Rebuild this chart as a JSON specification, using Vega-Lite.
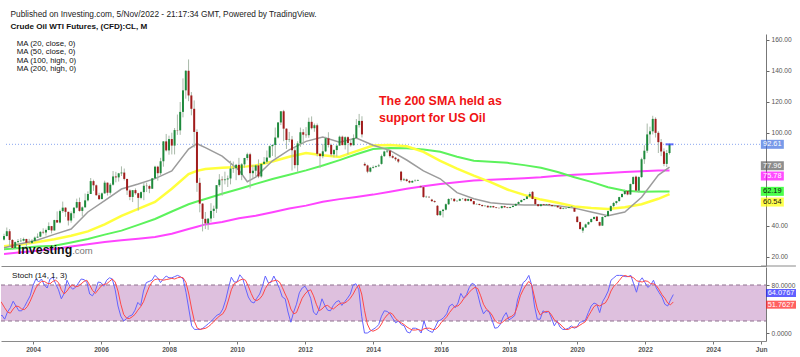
{
"$schema": "https://vega.github.io/schema/vega-lite/v6.json",
"background": "white",
"padding": {"left": 0, "top": 9, "right": 0, "bottom": 0},
"config": {"font": "Liberation Sans", "view": {"stroke": null}, "axis": {"grid": false}},
"title": {"text": "Published on Investing.com, 5/Nov/2022 - 21:17:34 GMT, Powered by TradingView.", "subtitle": "Crude Oil WTI Futures, (CFD):CL, M", "anchor": "start", "frame": "bounds", "dx": 10, "font": "Liberation Sans", "fontSize": 8.3, "fontWeight": "normal", "color": "#222222", "subtitleFont": "Liberation Sans", "subtitleFontSize": 8.1, "subtitleFontWeight": "bold", "subtitleColor": "#111111", "subtitlePadding": 5, "offset": 3},
"spacing": 0,
"datasets": {
"one": [{"n": 1}],
"levels": [{"lvl": 20}, {"lvl": 80}],
"boxes": [{"name": "Last", "v": 92.61, "t": "92.61"}, {"name": "MA 20", "v": 78.8, "t": "77.96"}, {"name": "MA 200", "v": 72.2, "t": "75.78"}, {"name": "MA 100", "v": 62.3, "t": "62.19"}, {"name": "MA 50", "v": 55.4, "t": "60.54"}],
"sboxes": [{"name": "K", "v": 66.7, "t": "64.0767"}, {"name": "D", "v": 47.2, "t": "51.7627"}],
"candles": [
{"d":2003,"o":31.2,"h":35,"l":30.6,"c":33.5,"k":25,"s":56},
{"d":2003.083,"o":33.5,"h":39,"l":33.3,"c":36.6,"k":30,"s":50},
{"d":2003.167,"o":36.6,"h":38,"l":27,"c":31,"k":23,"s":42},
{"d":2003.25,"o":31,"h":31.5,"l":24.8,"c":25.8,"k":35,"s":35},
{"d":2003.333,"o":25.8,"h":30,"l":25.2,"c":29.6,"k":42,"s":33},
{"d":2003.417,"o":29.6,"h":31.6,"l":28.8,"c":30.2,"k":53,"s":40},
{"d":2003.5,"o":30.2,"h":32.2,"l":29.5,"c":30.5,"k":45,"s":45},
{"d":2003.583,"o":30.5,"h":32.5,"l":30,"c":31.6,"k":37,"s":44},
{"d":2003.667,"o":31.6,"h":31.8,"l":26,"c":29.2,"k":37,"s":40},
{"d":2003.75,"o":29.2,"h":31.7,"l":28.6,"c":29.1,"k":44,"s":39},
{"d":2003.833,"o":29.1,"h":31.5,"l":28.4,"c":30.4,"k":53,"s":44},
{"d":2003.917,"o":30.4,"h":33.2,"l":30,"c":32.5,"k":62,"s":53},
{"d":2004,"o":32.5,"h":35.2,"l":32.3,"c":33.1,"k":79,"s":64},
{"d":2004.083,"o":33.1,"h":36.6,"l":32.8,"c":36.2,"k":90,"s":75},
{"d":2004.167,"o":36.2,"h":38.5,"l":34.7,"c":35.8,"k":85,"s":82},
{"d":2004.25,"o":35.8,"h":38.3,"l":33.8,"c":37.4,"k":90,"s":86},
{"d":2004.333,"o":37.4,"h":42.3,"l":37.2,"c":39.9,"k":80,"s":86},
{"d":2004.417,"o":39.9,"h":40,"l":35.2,"c":37.1,"k":75,"s":83},
{"d":2004.5,"o":37.1,"h":44,"l":37,"c":43.8,"k":90,"s":82},
{"d":2004.583,"o":43.8,"h":49.4,"l":42.1,"c":42.2,"k":93,"s":86},
{"d":2004.667,"o":42.2,"h":50.5,"l":41.6,"c":49.6,"k":82,"s":88},
{"d":2004.75,"o":49.6,"h":55.7,"l":48.5,"c":51.8,"k":72,"s":84},
{"d":2004.833,"o":51.8,"h":52,"l":45.9,"c":49.1,"k":57,"s":72},
{"d":2004.917,"o":49.1,"h":49.2,"l":40.3,"c":43.5,"k":66,"s":65},
{"d":2005,"o":43.5,"h":49.4,"l":42.1,"c":48.2,"k":88,"s":70},
{"d":2005.083,"o":48.2,"h":52,"l":45,"c":51.8,"k":78,"s":77},
{"d":2005.167,"o":51.8,"h":57.6,"l":51.3,"c":55.4,"k":73,"s":80},
{"d":2005.25,"o":55.4,"h":58.3,"l":49.2,"c":49.7,"k":76,"s":77},
{"d":2005.333,"o":49.7,"h":52.6,"l":46.2,"c":52,"k":83,"s":78},
{"d":2005.417,"o":52,"h":60.9,"l":51.9,"c":56.5,"k":90,"s":82},
{"d":2005.5,"o":56.5,"h":62.3,"l":55.8,"c":60.6,"k":89,"s":86},
{"d":2005.583,"o":60.6,"h":70.9,"l":60.6,"c":68.9,"k":85,"s":88},
{"d":2005.667,"o":68.9,"h":69.8,"l":62.6,"c":66.2,"k":65,"s":80},
{"d":2005.75,"o":66.2,"h":66.7,"l":59.6,"c":59.8,"k":62,"s":71},
{"d":2005.833,"o":59.8,"h":61.4,"l":56.7,"c":57.3,"k":70,"s":66},
{"d":2005.917,"o":57.3,"h":61.6,"l":57.3,"c":61,"k":85,"s":72},
{"d":2006,"o":61,"h":69.2,"l":60.8,"c":67.9,"k":84,"s":78},
{"d":2006.083,"o":67.9,"h":68,"l":59.6,"c":61.4,"k":78,"s":81},
{"d":2006.167,"o":61.4,"h":67.7,"l":60.2,"c":66.6,"k":88,"s":82},
{"d":2006.25,"o":66.6,"h":75.4,"l":66,"c":71.9,"k":92,"s":86},
{"d":2006.333,"o":71.9,"h":74.9,"l":68.1,"c":71.3,"k":90,"s":90},
{"d":2006.417,"o":71.3,"h":74.2,"l":68.6,"c":73.9,"k":72,"s":85},
{"d":2006.5,"o":73.9,"h":78.4,"l":72.2,"c":74.4,"k":45,"s":70},
{"d":2006.583,"o":74.4,"h":77,"l":69.3,"c":70.3,"k":28,"s":48},
{"d":2006.667,"o":70.3,"h":70.4,"l":60,"c":62.9,"k":20,"s":31},
{"d":2006.75,"o":62.9,"h":63.7,"l":56.6,"c":58.7,"k":24,"s":25},
{"d":2006.833,"o":58.7,"h":62.4,"l":55.4,"c":63.1,"k":28,"s":24},
{"d":2006.917,"o":63.1,"h":64.2,"l":60.1,"c":61.1,"k":30,"s":27},
{"d":2007,"o":61.1,"h":61.4,"l":49.9,"c":58.1,"k":38,"s":31},
{"d":2007.083,"o":58.1,"h":62.3,"l":57.2,"c":61.8,"k":51,"s":38},
{"d":2007.167,"o":61.8,"h":68.1,"l":56.6,"c":65.9,"k":46,"s":44},
{"d":2007.25,"o":65.9,"h":67.9,"l":61.9,"c":65.7,"k":70,"s":52},
{"d":2007.333,"o":65.7,"h":66.6,"l":61.1,"c":64,"k":84,"s":65},
{"d":2007.417,"o":64,"h":70.8,"l":63.9,"c":70.7,"k":86,"s":77},
{"d":2007.5,"o":70.7,"h":78.8,"l":70.4,"c":78.2,"k":88,"s":85},
{"d":2007.583,"o":78.2,"h":78.8,"l":69.2,"c":74,"k":96,"s":89},
{"d":2007.667,"o":74,"h":83.9,"l":72.8,"c":81.7,"k":92,"s":90},
{"d":2007.75,"o":81.7,"h":94.7,"l":78.2,"c":94.5,"k":84,"s":89},
{"d":2007.833,"o":94.5,"h":99.3,"l":88,"c":88.7,"k":90,"s":88},
{"d":2007.917,"o":88.7,"h":98.2,"l":85.9,"c":96,"k":95,"s":89},
{"d":2008,"o":96,"h":100.1,"l":86.1,"c":91.8,"k":92,"s":90},
{"d":2008.083,"o":91.8,"h":103.1,"l":86.1,"c":101.8,"k":92,"s":91},
{"d":2008.167,"o":101.8,"h":111.8,"l":98.7,"c":101.6,"k":94,"s":90},
{"d":2008.25,"o":101.6,"h":119.9,"l":98.7,"c":113.5,"k":96,"s":92},
{"d":2008.333,"o":113.5,"h":135.1,"l":110,"c":127.4,"k":94,"s":93},
{"d":2008.417,"o":127.4,"h":140.4,"l":122,"c":140,"k":90,"s":92},
{"d":2008.5,"o":140,"h":147.3,"l":120.4,"c":124.1,"k":68,"s":84},
{"d":2008.583,"o":124.1,"h":126.3,"l":111.3,"c":115.5,"k":40,"s":65},
{"d":2008.667,"o":115.5,"h":120.9,"l":90.5,"c":100.6,"k":12,"s":40},
{"d":2008.75,"o":100.6,"h":102.3,"l":62,"c":67.8,"k":6,"s":19},
{"d":2008.833,"o":67.8,"h":71,"l":48.8,"c":54.4,"k":6,"s":8},
{"d":2008.917,"o":54.4,"h":54.7,"l":36.5,"c":44.6,"k":6,"s":6},
{"d":2009,"o":44.6,"h":49,"l":38,"c":41.7,"k":8,"s":7},
{"d":2009.083,"o":41.7,"h":43.9,"l":37.5,"c":44.8,"k":12,"s":8},
{"d":2009.167,"o":44.8,"h":54.7,"l":42.7,"c":49.7,"k":16,"s":11},
{"d":2009.25,"o":49.7,"h":53.1,"l":45.1,"c":51.1,"k":20,"s":15},
{"d":2009.333,"o":51.1,"h":66.3,"l":48.4,"c":66.3,"k":25,"s":20},
{"d":2009.417,"o":66.3,"h":73.4,"l":65.2,"c":69.9,"k":30,"s":25},
{"d":2009.5,"o":69.9,"h":72,"l":59.5,"c":69.5,"k":32,"s":29},
{"d":2009.583,"o":69.5,"h":75,"l":66.8,"c":70,"k":40,"s":32},
{"d":2009.667,"o":70,"h":72.5,"l":65.1,"c":70.6,"k":55,"s":40},
{"d":2009.75,"o":70.6,"h":82,"l":66.8,"c":77,"k":75,"s":55},
{"d":2009.833,"o":77,"h":81.5,"l":74.2,"c":77.3,"k":93,"s":72},
{"d":2009.917,"o":77.3,"h":80,"l":69.5,"c":79.4,"k":85,"s":82},
{"d":2010,"o":79.4,"h":83.9,"l":72.4,"c":72.9,"k":85,"s":85},
{"d":2010.083,"o":72.9,"h":80.5,"l":69.5,"c":79.7,"k":97,"s":88},
{"d":2010.167,"o":79.7,"h":83.9,"l":77.6,"c":83.8,"k":91,"s":90},
{"d":2010.25,"o":83.8,"h":87.2,"l":82.3,"c":86.2,"k":75,"s":88},
{"d":2010.333,"o":86.2,"h":87.2,"l":64.2,"c":74,"k":60,"s":78},
{"d":2010.417,"o":74,"h":79.3,"l":70.5,"c":75.6,"k":52,"s":66},
{"d":2010.5,"o":75.6,"h":79.4,"l":71.5,"c":79,"k":50,"s":56},
{"d":2010.583,"o":79,"h":82.9,"l":70.8,"c":71.9,"k":58,"s":54},
{"d":2010.667,"o":71.9,"h":80,"l":71.1,"c":80,"k":65,"s":57},
{"d":2010.75,"o":80,"h":84.4,"l":79.8,"c":81.4,"k":78,"s":63},
{"d":2010.833,"o":81.4,"h":88.6,"l":80.2,"c":84.1,"k":95,"s":74},
{"d":2010.917,"o":84.1,"h":91.9,"l":84,"c":91.4,"k":84,"s":82},
{"d":2011,"o":91.4,"h":92.6,"l":85.1,"c":92.2,"k":84,"s":86},
{"d":2011.083,"o":92.2,"h":103.4,"l":84.1,"c":97,"k":95,"s":87},
{"d":2011.167,"o":97,"h":106.9,"l":96.4,"c":106.7,"k":85,"s":88},
{"d":2011.25,"o":106.7,"h":113.9,"l":105,"c":113.9,"k":74,"s":85},
{"d":2011.333,"o":113.9,"h":114.8,"l":94.6,"c":102.7,"k":60,"s":76},
{"d":2011.417,"o":102.7,"h":102.9,"l":89.6,"c":95.4,"k":57,"s":65},
{"d":2011.5,"o":95.4,"h":100.6,"l":94,"c":95.7,"k":35,"s":55},
{"d":2011.583,"o":95.7,"h":98,"l":75.7,"c":88.8,"k":18,"s":40},
{"d":2011.667,"o":88.8,"h":90.5,"l":77.1,"c":79.2,"k":35,"s":32},
{"d":2011.75,"o":79.2,"h":94.6,"l":74.9,"c":93.2,"k":48,"s":34},
{"d":2011.833,"o":93.2,"h":103.4,"l":91,"c":100.4,"k":67,"s":46},
{"d":2011.917,"o":100.4,"h":102.4,"l":92.5,"c":98.8,"k":75,"s":58},
{"d":2012,"o":98.8,"h":103.7,"l":96.8,"c":98.5,"k":78,"s":65},
{"d":2012.083,"o":98.5,"h":109.8,"l":96.8,"c":107.1,"k":70,"s":70},
{"d":2012.167,"o":107.1,"h":110.6,"l":102.2,"c":103,"k":58,"s":72},
{"d":2012.25,"o":103,"h":106,"l":100.7,"c":104.9,"k":35,"s":62},
{"d":2012.333,"o":104.9,"h":106,"l":84.8,"c":86.5,"k":30,"s":48},
{"d":2012.417,"o":86.5,"h":86.9,"l":77.3,"c":85,"k":40,"s":37},
{"d":2012.5,"o":85,"h":92.9,"l":83.6,"c":88.1,"k":57,"s":40},
{"d":2012.583,"o":88.1,"h":97.5,"l":87.6,"c":96.5,"k":46,"s":45},
{"d":2012.667,"o":96.5,"h":100.4,"l":90.6,"c":92.2,"k":38,"s":46},
{"d":2012.75,"o":92.2,"h":93,"l":84.9,"c":86.2,"k":37,"s":42},
{"d":2012.833,"o":86.2,"h":89.5,"l":84.2,"c":88.9,"k":46,"s":40},
{"d":2012.917,"o":88.9,"h":91.8,"l":84.7,"c":91.8,"k":52,"s":44},
{"d":2013,"o":91.8,"h":98.2,"l":91.8,"c":97.5,"k":54,"s":48},
{"d":2013.083,"o":97.5,"h":98.2,"l":92,"c":92.1,"k":46,"s":50},
{"d":2013.167,"o":92.1,"h":97.8,"l":89.3,"c":97.2,"k":52,"s":50},
{"d":2013.25,"o":97.2,"h":97.8,"l":86.1,"c":93.5,"k":58,"s":53},
{"d":2013.333,"o":93.5,"h":96.1,"l":91.1,"c":92,"k":65,"s":58},
{"d":2013.417,"o":92,"h":99,"l":91.9,"c":96.6,"k":80,"s":65},
{"d":2013.5,"o":96.6,"h":108.9,"l":95.9,"c":105,"k":82,"s":74},
{"d":2013.583,"o":105,"h":112.2,"l":103.4,"c":107.7,"k":72,"s":80},
{"d":2013.667,"o":107.7,"h":110.7,"l":97,"c":99,"k":28,"s":65},
{"d":2013.75,"o":80,"h":81,"l":78.5,"c":79,"k":0,"s":38},
{"d":2013.833,"o":79,"h":79.5,"l":74,"c":75,"k":0,"s":15},
{"d":2013.917,"o":75,"h":78,"l":74.5,"c":77.5,"k":3,"s":5},
{"d":2014,"o":77.5,"h":79,"l":77,"c":78,"k":6,"s":3},
{"d":2014.083,"o":78,"h":79,"l":77.5,"c":78.5,"k":9,"s":5},
{"d":2014.167,"o":78.5,"h":80,"l":78,"c":79,"k":14,"s":8},
{"d":2014.25,"o":80,"h":86,"l":79.5,"c":85,"k":28,"s":15},
{"d":2014.333,"o":85,"h":88.5,"l":84.5,"c":88,"k":37,"s":24},
{"d":2014.417,"o":88,"h":90,"l":87,"c":88.5,"k":36,"s":30},
{"d":2014.5,"o":88.5,"h":89,"l":84,"c":85,"k":32,"s":34},
{"d":2014.583,"o":85,"h":86,"l":83.5,"c":84,"k":24,"s":31},
{"d":2014.667,"o":84,"h":84.5,"l":82,"c":83,"k":17,"s":24},
{"d":2014.75,"o":83,"h":83.5,"l":80.5,"c":81.5,"k":20,"s":20},
{"d":2014.833,"o":75,"h":75.5,"l":68.5,"c":69.5,"k":14,"s":17},
{"d":2014.917,"o":69.5,"h":71,"l":69,"c":70,"k":12,"s":14},
{"d":2015,"o":70,"h":70.5,"l":68.5,"c":69,"k":2,"s":10},
{"d":2015.083,"o":69,"h":69.5,"l":67.5,"c":68,"k":0,"s":7},
{"d":2015.167,"o":68,"h":69.5,"l":67.8,"c":69,"k":8,"s":5},
{"d":2015.25,"o":69,"h":70,"l":68.5,"c":69.2,"k":8,"s":5},
{"d":2015.333,"o":69.2,"h":70,"l":69,"c":69.6,"k":6,"s":6},
{"d":2015.417,"o":65.5,"h":66,"l":64.5,"c":65,"k":0,"s":4},
{"d":2015.5,"o":65,"h":65.5,"l":58.2,"c":58.6,"k":20,"s":7},
{"d":2015.583,"o":58.6,"h":59.5,"l":58,"c":58.8,"k":6,"s":8},
{"d":2015.667,"o":58.8,"h":59,"l":58,"c":58.5,"k":3,"s":8},
{"d":2015.75,"o":57,"h":57.5,"l":55.5,"c":56,"k":1,"s":6},
{"d":2015.833,"o":56,"h":56.5,"l":55,"c":55.4,"k":10,"s":6},
{"d":2015.917,"o":53,"h":53.5,"l":46.5,"c":47,"k":20,"s":10},
{"d":2016,"o":47,"h":50,"l":46.5,"c":49.6,"k":22,"s":17},
{"d":2016.083,"o":49.6,"h":51,"l":45.5,"c":50.5,"k":26,"s":22},
{"d":2016.167,"o":50.5,"h":54.5,"l":50,"c":54,"k":32,"s":27},
{"d":2016.25,"o":54,"h":57.8,"l":53.5,"c":57.4,"k":45,"s":34},
{"d":2016.333,"o":57.4,"h":58,"l":56.5,"c":57.5,"k":48,"s":40},
{"d":2016.417,"o":57.5,"h":57.8,"l":55.5,"c":56,"k":42,"s":45},
{"d":2016.5,"o":56,"h":56.5,"l":55.5,"c":56.2,"k":50,"s":45},
{"d":2016.583,"o":56.2,"h":57.8,"l":56,"c":57.4,"k":66,"s":50},
{"d":2016.667,"o":57.4,"h":58,"l":57,"c":57.5,"k":58,"s":57},
{"d":2016.75,"o":57.5,"h":57.8,"l":55.8,"c":56.2,"k":64,"s":62},
{"d":2016.833,"o":56.2,"h":57.6,"l":56,"c":57.4,"k":76,"s":68},
{"d":2016.917,"o":57.4,"h":57.5,"l":55.8,"c":56,"k":83,"s":73},
{"d":2017,"o":56,"h":56.2,"l":53.8,"c":54,"k":80,"s":76},
{"d":2017.083,"o":54,"h":54.5,"l":53.8,"c":54.2,"k":64,"s":74},
{"d":2017.167,"o":54.2,"h":54.3,"l":53.2,"c":53.5,"k":45,"s":62},
{"d":2017.25,"o":53.5,"h":53.8,"l":52.5,"c":52.8,"k":32,"s":48},
{"d":2017.333,"o":52.8,"h":53.5,"l":52.5,"c":53,"k":38,"s":40},
{"d":2017.417,"o":53,"h":53.2,"l":51.8,"c":52,"k":35,"s":36},
{"d":2017.5,"o":52,"h":53,"l":51.8,"c":52.8,"k":22,"s":30},
{"d":2017.583,"o":52.8,"h":53,"l":51.8,"c":52,"k":8,"s":21},
{"d":2017.667,"o":52,"h":52.2,"l":51.3,"c":51.6,"k":9,"s":17},
{"d":2017.75,"o":51.6,"h":52,"l":51.2,"c":51.5,"k":15,"s":16},
{"d":2017.833,"o":51.5,"h":53,"l":51.3,"c":52.8,"k":27,"s":19},
{"d":2017.917,"o":52.8,"h":53,"l":51.8,"c":52,"k":34,"s":23},
{"d":2018,"o":52,"h":52.3,"l":51.4,"c":51.6,"k":22,"s":26},
{"d":2018.083,"o":51.6,"h":52.4,"l":51.4,"c":52.2,"k":25,"s":28},
{"d":2018.167,"o":52.2,"h":53.2,"l":52,"c":53,"k":29,"s":32},
{"d":2018.25,"o":53,"h":54.4,"l":52.8,"c":54.2,"k":55,"s":45},
{"d":2018.333,"o":54.2,"h":55.8,"l":54,"c":55.4,"k":70,"s":62},
{"d":2018.417,"o":55.4,"h":57,"l":55.2,"c":56.7,"k":84,"s":72},
{"d":2018.5,"o":56.7,"h":57.6,"l":56.5,"c":57.4,"k":88,"s":80},
{"d":2018.583,"o":57.4,"h":59.2,"l":57.2,"c":59,"k":96,"s":86},
{"d":2018.667,"o":59,"h":61.8,"l":58.8,"c":60.6,"k":80,"s":80},
{"d":2018.75,"o":62,"h":62.5,"l":57.2,"c":57.4,"k":45,"s":60},
{"d":2018.833,"o":57.4,"h":57.5,"l":53.8,"c":54,"k":23,"s":40},
{"d":2018.917,"o":54,"h":54.2,"l":52.5,"c":52.8,"k":23,"s":30},
{"d":2019,"o":52.8,"h":54.2,"l":52.6,"c":54,"k":37,"s":34},
{"d":2019.083,"o":54,"h":54.2,"l":53.2,"c":53.5,"k":34,"s":36},
{"d":2019.167,"o":53.5,"h":54.2,"l":53.3,"c":54,"k":36,"s":36},
{"d":2019.25,"o":54,"h":54.2,"l":53.3,"c":53.5,"k":25,"s":30},
{"d":2019.333,"o":53.5,"h":53.6,"l":52.6,"c":52.8,"k":12,"s":22},
{"d":2019.417,"o":52.8,"h":53.2,"l":52.5,"c":53,"k":20,"s":18},
{"d":2019.5,"o":53,"h":53.2,"l":51.8,"c":52,"k":10,"s":15},
{"d":2019.583,"o":52,"h":52.2,"l":50.8,"c":51,"k":6,"s":10},
{"d":2019.667,"o":51,"h":51.8,"l":50.8,"c":51.4,"k":6,"s":6},
{"d":2019.75,"o":51.4,"h":51.8,"l":51,"c":51.6,"k":8,"s":6},
{"d":2019.833,"o":51.6,"h":52.4,"l":51.4,"c":52.2,"k":12,"s":9},
{"d":2019.917,"o":52.2,"h":52.8,"l":51.8,"c":52.4,"k":8,"s":10},
{"d":2020,"o":51.5,"h":51.8,"l":49,"c":49.2,"k":10,"s":10},
{"d":2020.083,"o":46,"h":46.5,"l":42.3,"c":42.5,"k":18,"s":13},
{"d":2020.167,"o":42.5,"h":42.8,"l":37.8,"c":38,"k":19,"s":16},
{"d":2020.25,"o":37,"h":39.5,"l":35.5,"c":39,"k":22,"s":19},
{"d":2020.333,"o":39,"h":41.5,"l":38.8,"c":41,"k":34,"s":28},
{"d":2020.417,"o":41,"h":42.8,"l":40.8,"c":42.5,"k":45,"s":36},
{"d":2020.5,"o":42.5,"h":44.8,"l":42.3,"c":44.5,"k":50,"s":44},
{"d":2020.583,"o":44.5,"h":46,"l":44.2,"c":45.8,"k":48,"s":47},
{"d":2020.667,"o":46,"h":46.4,"l":43,"c":43.2,"k":34,"s":45},
{"d":2020.75,"o":42.5,"h":42.8,"l":39.8,"c":40.2,"k":52,"s":48},
{"d":2020.833,"o":40.2,"h":46,"l":40,"c":45.8,"k":60,"s":50},
{"d":2020.917,"o":45.8,"h":46.8,"l":45.5,"c":46.4,"k":70,"s":58},
{"d":2021,"o":46.4,"h":50,"l":46,"c":49.6,"k":88,"s":70},
{"d":2021.083,"o":49.6,"h":53.2,"l":49.4,"c":52.8,"k":92,"s":78},
{"d":2021.167,"o":52.8,"h":55.5,"l":52,"c":54.8,"k":96,"s":82},
{"d":2021.25,"o":54.8,"h":56.2,"l":53.8,"c":56,"k":96,"s":88},
{"d":2021.333,"o":56,"h":58.8,"l":55.8,"c":58.6,"k":96,"s":94},
{"d":2021.417,"o":58.6,"h":61,"l":58.4,"c":60.6,"k":94,"s":96},
{"d":2021.5,"o":60.6,"h":63.5,"l":60,"c":62.5,"k":94,"s":94},
{"d":2021.583,"o":62.5,"h":63,"l":59.8,"c":60.3,"k":96,"s":94},
{"d":2021.667,"o":60.3,"h":67.3,"l":60,"c":67,"k":82,"s":92},
{"d":2021.75,"o":67,"h":72,"l":66.8,"c":71.5,"k":68,"s":87},
{"d":2021.833,"o":71.8,"h":72.5,"l":62,"c":62.8,"k":86,"s":86},
{"d":2021.917,"o":62.8,"h":72,"l":61.5,"c":71.5,"k":92,"s":85},
{"d":2022,"o":71.5,"h":84,"l":71,"c":83,"k":84,"s":87},
{"d":2022.083,"o":83,"h":92,"l":80,"c":88.5,"k":76,"s":86},
{"d":2022.167,"o":88.5,"h":106,"l":87,"c":99,"k":80,"s":82},
{"d":2022.25,"o":99,"h":104,"l":93,"c":101,"k":88,"s":82},
{"d":2022.333,"o":101,"h":111,"l":99,"c":109,"k":75,"s":79},
{"d":2022.417,"o":109,"h":110,"l":97,"c":100,"k":67,"s":72},
{"d":2022.5,"o":100,"h":101,"l":87,"c":94,"k":60,"s":64},
{"d":2022.583,"o":94,"h":96,"l":85,"c":88,"k":48,"s":58},
{"d":2022.667,"o":88,"h":90,"l":78.5,"c":80,"k":45,"s":50},
{"d":2022.75,"o":80,"h":89,"l":78,"c":87,"k":55,"s":47},
{"d":2022.833,"o":87,"h":93,"l":86,"c":92.61,"k":64.0767,"s":51.7627}
],
"ma": [
{"d":2003,"m20":26,"m50":27,"m100":25,"m200":22},
{"d":2003.5,"m20":28.5,"m50":28,"m100":25.8,"m200":23},
{"d":2004,"m20":31,"m50":29.7,"m100":26.7,"m200":24},
{"d":2004.5,"m20":34.6,"m50":31.5,"m100":27.3,"m200":25.2},
{"d":2005,"m20":38,"m50":33.7,"m100":29.4,"m200":26.7},
{"d":2005.5,"m20":49,"m50":36.5,"m100":31.6,"m200":28.2},
{"d":2006,"m20":56.3,"m50":41,"m100":34.4,"m200":29.7},
{"d":2006.5,"m20":63.8,"m50":46.5,"m100":37,"m200":30.8},
{"d":2007,"m20":67,"m50":51,"m100":40.7,"m200":31.8},
{"d":2007.5,"m20":70.5,"m50":55.5,"m100":44.5,"m200":32.9},
{"d":2008,"m20":75.5,"m50":64,"m100":49.3,"m200":35},
{"d":2008.5,"m20":89.6,"m50":73.5,"m100":54,"m200":38},
{"d":2008.75,"m20":93,"m50":75.5,"m100":55.8,"m200":39.5},
{"d":2009,"m20":90.5,"m50":76.7,"m100":57.4,"m200":41},
{"d":2009.5,"m20":85,"m50":77.5,"m100":60.8,"m200":42.5},
{"d":2010,"m20":76,"m50":78,"m100":63.8,"m200":45},
{"d":2010.25,"m20":68.5,"m50":78.4,"m100":65.4,"m200":45.8},
{"d":2010.5,"m20":71.5,"m50":79,"m100":67.1,"m200":46.6},
{"d":2011,"m20":82,"m50":81.5,"m100":70.3,"m200":48.9},
{"d":2011.5,"m20":89,"m50":84.6,"m100":73,"m200":51.2},
{"d":2012,"m20":94.5,"m50":87,"m100":75.8,"m200":53.1},
{"d":2012.5,"m20":97.3,"m50":85.5,"m100":79,"m200":55.6},
{"d":2013,"m20":94,"m50":84.5,"m100":82.4,"m200":57.3},
{"d":2013.5,"m20":96.7,"m50":88.2,"m100":86.2,"m200":58.7},
{"d":2014,"m20":92,"m50":91.8,"m100":89.6,"m200":60.2},
{"d":2014.5,"m20":88.7,"m50":92.2,"m100":90.2,"m200":62},
{"d":2015,"m20":82.5,"m50":91.4,"m100":90.1,"m200":64},
{"d":2015.5,"m20":75.5,"m50":87.8,"m100":89.2,"m200":65.6},
{"d":2016,"m20":70.4,"m50":82,"m100":87.8,"m200":67},
{"d":2016.5,"m20":61.5,"m50":77,"m100":84.6,"m200":68.2},
{"d":2017,"m20":57.5,"m50":72.4,"m100":82,"m200":69.3},
{"d":2017.5,"m20":55,"m50":68.3,"m100":81.4,"m200":69.8},
{"d":2018,"m20":54,"m50":63.5,"m100":80.7,"m200":70.3},
{"d":2018.5,"m20":53.5,"m50":60,"m100":79.2,"m200":70.8},
{"d":2019,"m20":53.5,"m50":57,"m100":77.5,"m200":71.4},
{"d":2019.5,"m20":53,"m50":55,"m100":74.8,"m200":72.4},
{"d":2020,"m20":51.5,"m50":52.5,"m100":71.4,"m200":73},
{"d":2020.5,"m20":49,"m50":51.5,"m100":68.4,"m200":73.5},
{"d":2021,"m20":46.6,"m50":51,"m100":65,"m200":74.2},
{"d":2021.5,"m20":49,"m50":52,"m100":62.7,"m200":74.8},
{"d":2022,"m20":58.5,"m50":54,"m100":62,"m200":75.3},
{"d":2022.5,"m20":72.8,"m50":57.5,"m100":62.2,"m200":75.7},
{"d":2022.833,"m20":77.96,"m50":60.54,"m100":62.19,"m200":75.78}
]
},
"vconcat": [
{
"width": 765, "height": 232,
"layer": [
{"data": {"name": "one"}, "mark": {"type": "rule", "color": "#8aa6f0", "strokeDash": [1, 2], "strokeWidth": 1},
 "encoding": {"x": {"datum": 2003.059, "type": "quantitative", "scale": {"domain": [2003.059, 2025.559], "nice": false, "zero": false}, "axis": {"labels": false, "ticks": false, "domain": true, "domainColor": "#8a8a8a", "title": null, "grid": false}}, "x2": {"datum": 2025.559},
  "y": {"datum": 92.61, "type": "quantitative", "scale": {"domain": [14.2, 163.7], "nice": false, "zero": false}, "axis": {"orient": "right", "values": [20,40,100,120,140,160], "format": ".2f", "labelFontSize": 6.6, "labelColor": "#555555", "tickColor": "#666666", "tickSize": 3, "domainColor": "#777777", "labelPadding": 2, "labelOverlap": false, "title": null, "grid": false}}}},
{"data": {"name": "one"}, "mark": {"type": "rule", "color": "#8a8a8a", "strokeWidth": 1},
 "encoding": {"x": {"datum": 2025.559, "type": "quantitative", "scale": {"domain": [2003.059, 2025.559], "nice": false, "zero": false}}, "x2": {"datum": 2026.6},
  "y": {"datum": 14.2, "type": "quantitative", "scale": {"domain": [14.2, 163.7], "nice": false, "zero": false}}}},
{"data": {"name": "ma"}, "mark": {"type": "line", "color": "#ff44ff", "strokeWidth": 2, "clip": true},
 "encoding": {"x": {"field": "d", "type": "quantitative", "scale": {"domain": [2003.059, 2025.559], "nice": false, "zero": false}}, "y": {"field": "m200", "type": "quantitative", "scale": {"domain": [14.2, 163.7], "nice": false, "zero": false}}}},
{"data": {"name": "ma"}, "mark": {"type": "line", "color": "#5cf25c", "strokeWidth": 2, "clip": true},
 "encoding": {"x": {"field": "d", "type": "quantitative", "scale": {"domain": [2003.059, 2025.559], "nice": false, "zero": false}}, "y": {"field": "m100", "type": "quantitative", "scale": {"domain": [14.2, 163.7], "nice": false, "zero": false}}}},
{"data": {"name": "ma"}, "mark": {"type": "line", "color": "#ffff3c", "strokeWidth": 2.5, "clip": true},
 "encoding": {"x": {"field": "d", "type": "quantitative", "scale": {"domain": [2003.059, 2025.559], "nice": false, "zero": false}}, "y": {"field": "m50", "type": "quantitative", "scale": {"domain": [14.2, 163.7], "nice": false, "zero": false}}}},
{"data": {"name": "ma"}, "mark": {"type": "line", "color": "#9c9c9c", "strokeWidth": 1.5, "clip": true},
 "encoding": {"x": {"field": "d", "type": "quantitative", "scale": {"domain": [2003.059, 2025.559], "nice": false, "zero": false}}, "y": {"field": "m20", "type": "quantitative", "scale": {"domain": [14.2, 163.7], "nice": false, "zero": false}}}},
{"data": {"name": "candles"}, "mark": {"type": "rule", "color": "#a9b9a9", "strokeWidth": 1, "clip": true},
 "encoding": {"x": {"field": "d", "type": "quantitative", "scale": {"domain": [2003.059, 2025.559], "nice": false, "zero": false}}, "y": {"field": "l", "type": "quantitative", "scale": {"domain": [14.2, 163.7], "nice": false, "zero": false}}, "y2": {"field": "h"}}},
{"data": {"name": "candles"}, "mark": {"type": "bar", "size": 2, "clip": true},
 "encoding": {"x": {"field": "d", "type": "quantitative", "scale": {"domain": [2003.059, 2025.559], "nice": false, "zero": false}}, "y": {"field": "o", "type": "quantitative", "scale": {"domain": [14.2, 163.7], "nice": false, "zero": false}}, "y2": {"field": "c"},
  "color": {"condition": {"test": "datum.c >= datum.o", "value": "#1e8a3c"}, "value": "#a11c1c"}}},
{"data": {"name": "one"}, "mark": {"type": "tick", "orient": "horizontal", "size": 8, "thickness": 2, "color": "#2a3cff"},
 "encoding": {"x": {"datum": 2022.833, "type": "quantitative", "scale": {"domain": [2003.059, 2025.559], "nice": false, "zero": false}}, "y": {"datum": 92.61, "type": "quantitative", "scale": {"domain": [14.2, 163.7], "nice": false, "zero": false}}}},
{"data": {"name": "one"}, "mark": {"type": "text", "align": "left", "baseline": "top", "fontSize": 7.8, "lineHeight": 8.4, "color": "#111111"},
 "encoding": {"x": {"datum": 2003.382, "type": "quantitative", "scale": {"domain": [2003.059, 2025.559], "nice": false, "zero": false}}, "y": {"datum": 159.8, "type": "quantitative", "scale": {"domain": [14.2, 163.7], "nice": false, "zero": false}},
  "text": {"value": ["MA (20, close, 0)", "MA (50, close, 0)", "MA (100, high, 0)", "MA (200, high, 0)"]}}},
{"data": {"name": "one"}, "mark": {"type": "text", "align": "left", "baseline": "alphabetic", "fontSize": 12.4, "fontWeight": "bold", "lineHeight": 17, "color": "#f01414"},
 "encoding": {"x": {"datum": 2014.176, "type": "quantitative", "scale": {"domain": [2003.059, 2025.559], "nice": false, "zero": false}}, "y": {"datum": 117.8, "type": "quantitative", "scale": {"domain": [14.2, 163.7], "nice": false, "zero": false}},
  "text": {"value": ["The 200 SMA held as", "support for US Oil"]}}},
{"data": {"name": "one"}, "mark": {"type": "text", "align": "left", "baseline": "alphabetic", "fontSize": 12.4, "fontWeight": "bold", "color": "#111111"},
 "encoding": {"x": {"datum": 2003.412, "type": "quantitative", "scale": {"domain": [2003.059, 2025.559], "nice": false, "zero": false}}, "y": {"datum": 21.9, "type": "quantitative", "scale": {"domain": [14.2, 163.7], "nice": false, "zero": false}}, "text": {"value": "Investing"}}},
{"data": {"name": "one"}, "mark": {"type": "text", "align": "left", "baseline": "alphabetic", "fontSize": 9.5, "color": "#777777"},
 "encoding": {"x": {"datum": 2005.03, "type": "quantitative", "scale": {"domain": [2003.059, 2025.559], "nice": false, "zero": false}}, "y": {"datum": 21.9, "type": "quantitative", "scale": {"domain": [14.2, 163.7], "nice": false, "zero": false}}, "text": {"value": ".com"}}},
{"data": {"name": "boxes"}, "mark": {"type": "tick", "orient": "horizontal", "size": 23, "thickness": 9},
 "encoding": {"x": {"datum": 2025.897, "type": "quantitative", "scale": {"domain": [2003.059, 2025.559], "nice": false, "zero": false}}, "y": {"field": "v", "type": "quantitative", "scale": {"domain": [14.2, 163.7], "nice": false, "zero": false}},
  "color": {"field": "name", "type": "nominal", "legend": null, "scale": {"domain": ["Last", "MA 20", "MA 200", "MA 100", "MA 50"], "range": ["#3f6fe0", "#5c5c5c", "#ff00ff", "#00ff00", "#ffff00"]}}}},
{"data": {"name": "boxes"}, "mark": {"type": "text", "align": "center", "baseline": "middle", "fontSize": 7.4},
 "encoding": {"x": {"datum": 2025.897, "type": "quantitative", "scale": {"domain": [2003.059, 2025.559], "nice": false, "zero": false}}, "y": {"field": "v", "type": "quantitative", "scale": {"domain": [14.2, 163.7], "nice": false, "zero": false}}, "text": {"field": "t"},
  "color": {"field": "name", "type": "nominal", "legend": null, "scale": {"domain": ["Last", "MA 20", "MA 200", "MA 100", "MA 50"], "range": ["#ffffff", "#ffffff", "#ffffff", "#111111", "#111111"]}}}}
],
"resolve": {"scale": {"color": "independent"}}
},
{
"width": 765, "height": 74,
"layer": [
{"data": {"name": "one"}, "mark": {"type": "rect", "color": "#dec0de"},
 "encoding": {"x": {"datum": 2003.059, "type": "quantitative", "scale": {"domain": [2003.059, 2025.559], "nice": false, "zero": false},
   "axis": {"values": [2004, 2006, 2008, 2010, 2012, 2014, 2016, 2018, 2020, 2022, 2024, 2025.417], "labelExpr": "datum.value > 2025 ? 'Jun' : format(datum.value, 'd')", "labelFontSize": 6.6, "labelFontWeight": "bold", "labelColor": "#555555", "tickSize": 3, "tickColor": "#777777", "domainColor": "#8a8a8a", "labelPadding": 2, "labelFlush": false, "labelOverlap": false, "title": null, "grid": false}},
  "x2": {"datum": 2025.559},
  "y": {"datum": 20, "type": "quantitative", "scale": {"domain": [-13.3, 110], "nice": false, "zero": false}, "axis": {"orient": "right", "values": [0, 80], "format": ".4f", "labelFontSize": 6.6, "labelColor": "#555555", "tickColor": "#666666", "tickSize": 3, "domainColor": "#777777", "labelPadding": 2, "labelOverlap": false, "title": null, "grid": false}},
  "y2": {"datum": 80}}},
{"data": {"name": "levels"}, "mark": {"type": "rule", "color": "#8e708e", "strokeDash": [4, 3], "strokeWidth": 1},
 "encoding": {"x": {"datum": 2003.059, "type": "quantitative", "scale": {"domain": [2003.059, 2025.559], "nice": false, "zero": false}}, "x2": {"datum": 2025.559}, "y": {"field": "lvl", "type": "quantitative", "scale": {"domain": [-13.3, 110], "nice": false, "zero": false}}}},
{"data": {"name": "candles"}, "mark": {"type": "line", "color": "#6464ff", "strokeWidth": 1, "clip": true},
 "encoding": {"x": {"field": "d", "type": "quantitative", "scale": {"domain": [2003.059, 2025.559], "nice": false, "zero": false}}, "y": {"field": "k", "type": "quantitative", "scale": {"domain": [-13.3, 110], "nice": false, "zero": false}}}},
{"data": {"name": "candles"}, "mark": {"type": "line", "color": "#ff4848", "strokeWidth": 1, "clip": true},
 "encoding": {"x": {"field": "d", "type": "quantitative", "scale": {"domain": [2003.059, 2025.559], "nice": false, "zero": false}}, "y": {"field": "s", "type": "quantitative", "scale": {"domain": [-13.3, 110], "nice": false, "zero": false}}}},
{"data": {"name": "one"}, "mark": {"type": "text", "align": "left", "baseline": "alphabetic", "fontSize": 8.1, "color": "#111111"},
 "encoding": {"x": {"datum": 2003.382, "type": "quantitative", "scale": {"domain": [2003.059, 2025.559], "nice": false, "zero": false}}, "y": {"datum": 91.7, "type": "quantitative", "scale": {"domain": [-13.3, 110], "nice": false, "zero": false}}, "text": {"value": "Stoch (14, 1, 3)"}}},
{"data": {"name": "sboxes"}, "mark": {"type": "tick", "orient": "horizontal", "size": 30, "thickness": 8},
 "encoding": {"x": {"datum": 2026.0, "type": "quantitative", "scale": {"domain": [2003.059, 2025.559], "nice": false, "zero": false}}, "y": {"field": "v", "type": "quantitative", "scale": {"domain": [-13.3, 110], "nice": false, "zero": false}},
  "color": {"field": "name", "type": "nominal", "legend": null, "scale": {"domain": ["K", "D"], "range": ["#1c1cff", "#ff1c1c"]}}}},
{"data": {"name": "sboxes"}, "mark": {"type": "text", "align": "center", "baseline": "middle", "fontSize": 7.4, "color": "#ffffff"},
 "encoding": {"x": {"datum": 2026.0, "type": "quantitative", "scale": {"domain": [2003.059, 2025.559], "nice": false, "zero": false}}, "y": {"field": "v", "type": "quantitative", "scale": {"domain": [-13.3, 110], "nice": false, "zero": false}}, "text": {"field": "t"}}}
],
"resolve": {"scale": {"color": "independent"}}
}
]
}
